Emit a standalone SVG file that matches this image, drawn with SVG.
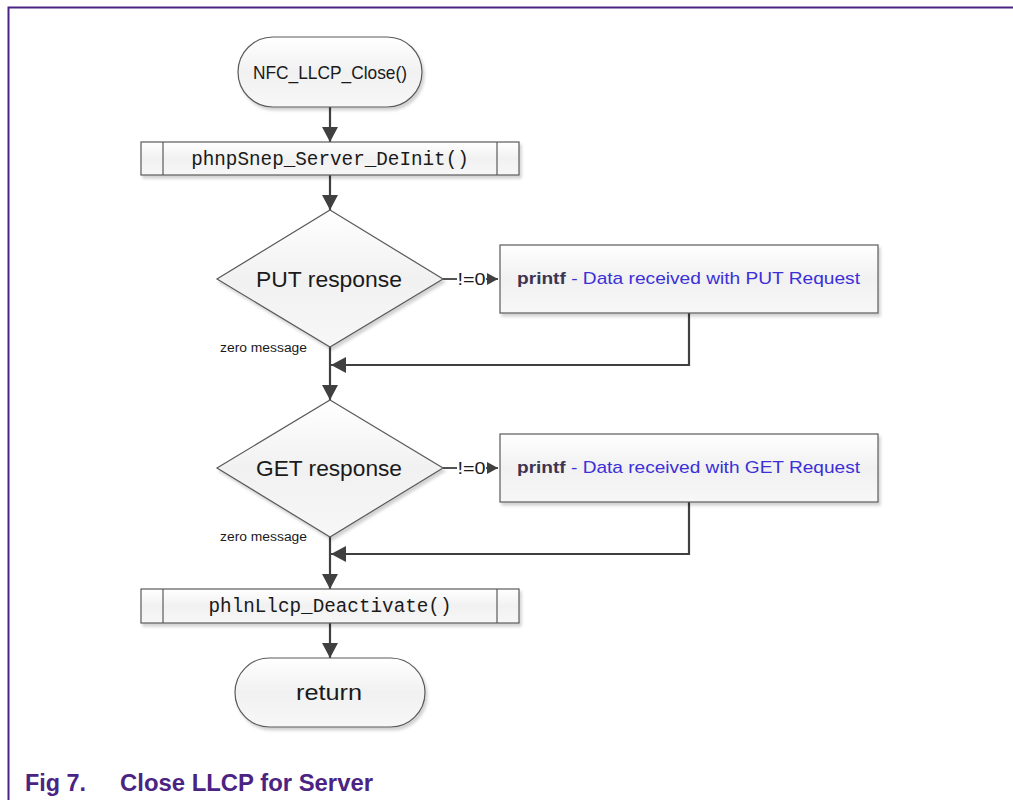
<svg xmlns="http://www.w3.org/2000/svg" width="1013" height="800" viewBox="0 0 1013 800">
<style>
.shape{fill:url(#g);stroke:#5a5a5a;stroke-width:1.2}
.inner{stroke:#5a5a5a;stroke-width:1.2;fill:none}
.conn{stroke:#404040;stroke-width:2.2;fill:none}
.t{font-family:"Liberation Sans",Arial,sans-serif;fill:#1a1a1a}
.mono{font-family:"Liberation Mono","DejaVu Sans Mono",monospace;fill:#1a1a1a;font-size:19.3px}
.cap{font-family:"Liberation Sans",Arial,sans-serif;font-weight:bold;fill:#4b2483;font-size:23px}
.blue{fill:#3a2fd8}
.pf{fill:#3c3450;font-weight:bold}
</style>
<defs>
<linearGradient id="g" x1="0" y1="0" x2="0" y2="1">
<stop offset="0" stop-color="#ffffff"/>
<stop offset="0.5" stop-color="#f1f1f1"/>
<stop offset="1" stop-color="#f7f7f7"/>
</linearGradient>
<filter id="sh" x="-10%" y="-10%" width="120%" height="130%">
<feDropShadow dx="2" dy="3" stdDeviation="1.5" flood-color="#000" flood-opacity="0.18"/>
</filter>
<marker id="arr" markerUnits="userSpaceOnUse" markerWidth="16" markerHeight="16" refX="15" refY="8" orient="auto">
<path d="M0,0 L15,8 L0,16 z" fill="#404040"/>
</marker>
<marker id="sarr" markerUnits="userSpaceOnUse" markerWidth="12" markerHeight="12" refX="11" refY="6" orient="auto">
<path d="M0,0 L11,6 L0,12 z" fill="#404040"/>
</marker>
</defs>
<rect width="1013" height="800" fill="#ffffff"/>
<path d="M8.5,800 L8.5,7.5 L1013,7.5" stroke="#4b2483" stroke-width="2" fill="none"/>

<g id="connectors">
<line class="conn" x1="330" y1="107" x2="330" y2="142" marker-end="url(#arr)"/>
<line class="conn" x1="330" y1="175" x2="330" y2="210" marker-end="url(#arr)"/>
<line class="conn" x1="330" y1="347" x2="330" y2="400" marker-end="url(#arr)"/>
<polyline class="conn" points="689,313 689,365 331,365" marker-end="url(#arr)"/>
<line class="conn" x1="330" y1="537" x2="330" y2="589" marker-end="url(#arr)"/>
<polyline class="conn" points="689,502 689,554 331,554" marker-end="url(#arr)"/>
<line class="conn" x1="330" y1="623" x2="330" y2="658" marker-end="url(#arr)"/>
<line stroke="#404040" stroke-width="1.8" x1="443" y1="279" x2="457" y2="279"/>
<line stroke="#404040" stroke-width="1.8" x1="486" y1="279" x2="498" y2="279" marker-end="url(#sarr)"/>
<text class="t" x="457.5" y="285" font-size="16" textLength="28" lengthAdjust="spacingAndGlyphs">!=0</text>
<line stroke="#404040" stroke-width="1.8" x1="443" y1="468" x2="457" y2="468"/>
<line stroke="#404040" stroke-width="1.8" x1="486" y1="468" x2="498" y2="468" marker-end="url(#sarr)"/>
<text class="t" x="457.5" y="474" font-size="16" textLength="28" lengthAdjust="spacingAndGlyphs">!=0</text>
<text class="t" x="220" y="352" font-size="12" textLength="87" lengthAdjust="spacingAndGlyphs">zero message</text>
<text class="t" x="220" y="541" font-size="12" textLength="87" lengthAdjust="spacingAndGlyphs">zero message</text>
</g>

<g id="start">
<rect class="shape" filter="url(#sh)" x="238" y="37" width="184" height="70" rx="35" ry="35"/>
<text class="t" x="330" y="79" font-size="19" text-anchor="middle" textLength="154" lengthAdjust="spacingAndGlyphs">NFC_LLCP_Close()</text>
</g>

<g id="deinit">
<rect class="shape" filter="url(#sh)" x="141" y="142" width="378" height="33"/>
<line class="inner" x1="163" y1="142" x2="163" y2="175"/>
<line class="inner" x1="497" y1="142" x2="497" y2="175"/>
<text class="mono" x="330" y="165" text-anchor="middle">phnpSnep_Server_DeInit()</text>
</g>

<g id="put">
<polygon class="shape" filter="url(#sh)" points="330,210 443,279 330,347 217,279"/>
<text class="t" x="329" y="287" font-size="22" text-anchor="middle" textLength="146" lengthAdjust="spacingAndGlyphs">PUT response</text>
</g>

<g id="putprint">
<rect class="shape" filter="url(#sh)" x="500" y="245" width="378" height="68"/>
<text class="t" x="517" y="284" font-size="17" textLength="343" lengthAdjust="spacingAndGlyphs"><tspan class="pf">printf</tspan><tspan class="blue"> - Data received with PUT Request</tspan></text>
</g>

<g id="get">
<polygon class="shape" filter="url(#sh)" points="330,400 443,468 330,537 217,468"/>
<text class="t" x="329" y="476" font-size="22" text-anchor="middle" textLength="146" lengthAdjust="spacingAndGlyphs">GET response</text>
</g>

<g id="getprint">
<rect class="shape" filter="url(#sh)" x="500" y="434" width="378" height="68"/>
<text class="t" x="517" y="473" font-size="17" textLength="343" lengthAdjust="spacingAndGlyphs"><tspan class="pf">printf</tspan><tspan class="blue"> - Data received with GET Request</tspan></text>
</g>

<g id="deactivate">
<rect class="shape" filter="url(#sh)" x="141" y="589" width="378" height="34"/>
<line class="inner" x1="163" y1="589" x2="163" y2="623"/>
<line class="inner" x1="497" y1="589" x2="497" y2="623"/>
<text class="mono" x="330" y="612" text-anchor="middle">phlnLlcp_Deactivate()</text>
</g>

<g id="return">
<rect class="shape" filter="url(#sh)" x="235" y="658" width="190" height="69" rx="34.5" ry="34.5"/>
<text class="t" x="329" y="700" font-size="22" text-anchor="middle" textLength="66" lengthAdjust="spacingAndGlyphs">return</text>
</g>

<g id="caption">
<text class="cap" x="25" y="791" textLength="61" lengthAdjust="spacingAndGlyphs">Fig 7.</text>
<text class="cap" x="120" y="791" textLength="253" lengthAdjust="spacingAndGlyphs">Close LLCP for Server</text>
</g>
</svg>
